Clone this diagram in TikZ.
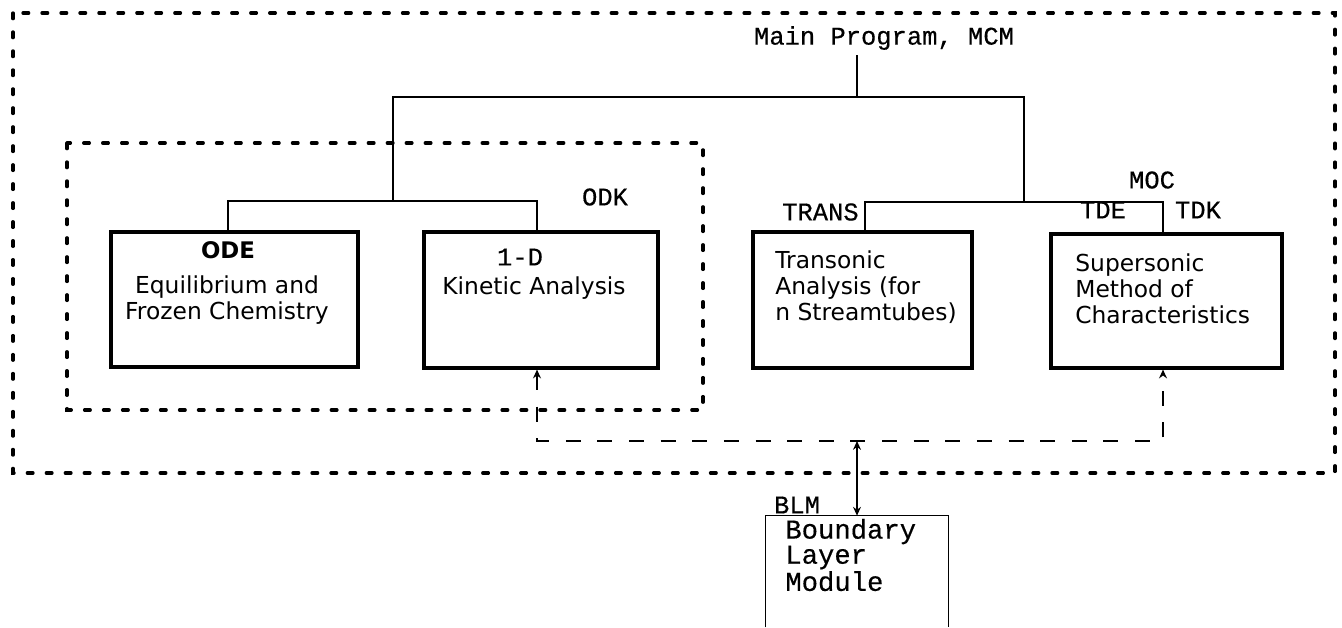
\documentclass[tikz,border=0pt]{standalone}
\usepackage{fontspec}
\setmainfont{DejaVu Sans}
\newfontfamily\typefont[FakeBold=0.4]{Liberation Mono}
\usetikzlibrary{arrows.meta,positioning,calc}

\begin{document}
\begin{tikzpicture}[
    x=0.02cm, y=-0.02cm,
    modbox/.style={draw, line width=1.8pt, inner sep=0pt},
    boxtext/.style={font=\fontsize{13.3}{14.7}\selectfont, align=#1, inner sep=0pt},
    boxtext/.default=center,
    boxhead/.style={font=\fontsize{13}{14.7}\selectfont\bfseries, inner sep=0pt},
    tag/.style={font=\typefont\fontsize{14.5}{16}\selectfont, inner sep=0pt},
    conn/.style={line width=1.6pt},
    groupframe/.style={line width=1.9pt, line cap=round, dash pattern=on 3.2pt off 7.6pt},
    couple/.style={line width=1.3pt, dash pattern=on 8.5pt off 9.5pt},
    tip/.style={{Stealth[length=5pt,width=4.5pt]}-{Stealth[length=5pt,width=4.5pt]}},
]
\useasboundingbox (0,0) rectangle (1342,627);

% Group frames
\draw[groupframe] (13,13) rectangle (1335,473);
\draw[groupframe] (67,143) rectangle (703,410);

% Main program
\node[tag] (mcm) at (884,38) {Main Program, MCM};

% Modules
\node[modbox, minimum width=4.94cm, minimum height=2.70cm] (ode)   at (234.5,299.5) {};
\node[modbox, minimum width=4.68cm, minimum height=2.72cm] (kin)   at (541,300)     {};
\node[modbox, minimum width=4.38cm, minimum height=2.72cm] (trans) at (862.5,300)   {};
\node[modbox, minimum width=4.62cm, minimum height=2.68cm] (moc)   at (1166.5,301)  {};
\node[minimum width=3.64cm, minimum height=2.22cm, inner sep=0pt] (blm) at (857,571.5) {};
\draw[line width=0.8pt] (blm.south west) -- (blm.north west) -- (blm.north east) -- (blm.south east);

% Module texts
\node[boxhead] (odename) at (228,250) {ODE};
\node[boxtext] (odetext) at (227,300) {Equilibrium and\\Frozen Chemistry};
\node[tag] (kinname) at (520,257) {1-D};
\node[boxtext] (kintext) at (534,288) {Kinetic Analysis};
\node[boxtext=left, anchor=west] (transtext) at (775,287) {Transonic\\Analysis (for\\n Streamtubes)};
\node[boxtext=left, anchor=west] (moctext) at (1075,289) {Supersonic\\Method of\\Characteristics};
\node[font=\typefont\fontsize{15.5}{14.3}\selectfont, align=left, anchor=west, inner sep=0pt]
    (blmtext) at (785,555) {Boundary\\Layer\\Module};

% Routine names
\node[tag] (odk) at (605,197) {ODK};
\node[tag] (moclbl) at (1152,180) {MOC};
\node[tag, anchor=east] (translbl) at (859,212) {TRANS};
\node[tag] (tde) at (1103,210) {TDE};
\node[tag] (tdk) at (1198,210) {TDK};
\node[tag] (blmlbl) at (797,505) {BLM};

% Tree junctions
\coordinate (mainbar)   at (857,97);
\coordinate (odkbar)    at (393,201);
\coordinate (mocbar)    at (1024,202);
\coordinate (odefoot)   at (228,201);
\coordinate (kinfoot)   at (537,201);
\coordinate (transfoot) at (865,202);
\coordinate (tdefoot)   at (1163,202);

% Tree
\draw[line width=1.1pt, shorten <=3pt] (mcm.south -| mainbar) -- (mainbar);
\draw[conn] (odkbar) -- (odkbar |- mainbar) -- (mocbar |- mainbar) -- (mocbar);
\draw[conn] (odefoot |- ode.north) -- (odefoot) -- (kinfoot) -- (kinfoot |- kin.north);
\draw[conn] (transfoot |- trans.north) -- (transfoot) -- (tdefoot) -- (tdefoot |- moc.north);

% Boundary layer coupling
\coordinate (cplleft)  at (537,441);
\coordinate (cplright) at (1163,441);
\coordinate (cplmid)   at (857,441);
\draw[couple, tip] (kin.south -| cplleft) -- (cplleft) -- (cplright) -- (moc.south -| cplright);
\draw[line width=1pt, tip] (cplmid) -- (blm.north);

\end{tikzpicture}
\end{document}
